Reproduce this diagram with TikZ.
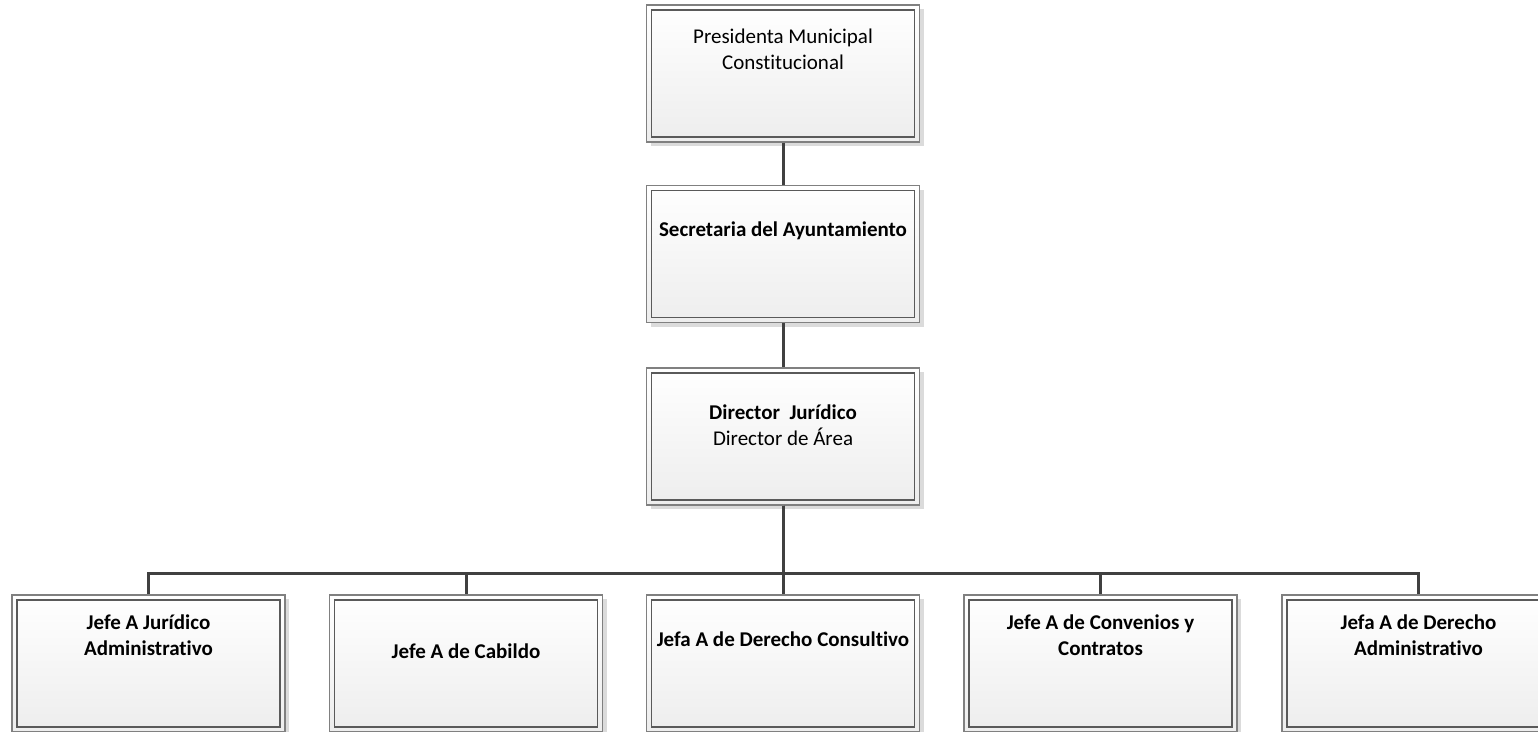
\documentclass[tikz,border=0pt]{standalone}
\usepackage{fontspec}
\setmainfont{Carlito}[Ligatures=NoCommon]
\usetikzlibrary{shadows}
\definecolor{linecol}{HTML}{404040}
\definecolor{outercol}{HTML}{808080}
\definecolor{innercol}{HTML}{5A5A5A}
\tikzset{
  orgbox/.style={rectangle, draw=outercol, line width=1.3pt,
    minimum width=273pt, minimum height=137pt, inner sep=0pt,
    top color=white, bottom color=black!7,
    drop shadow={shadow xshift=4pt, shadow yshift=-4pt, fill=black!14, opacity=1},
    path picture={\draw[innercol, line width=1.3pt]
      ([shift={(5pt,-5pt)}]path picture bounding box.north west) rectangle
      ([shift={(-5pt,5pt)}]path picture bounding box.south east);}},
  orgtext/.style={align=center, inner sep=0pt, font=\fontsize{21}{26}\selectfont},
  conn/.style={draw=linecol, line width=3pt}
}
\begin{document}
\begin{tikzpicture}[x=1pt,y=-1pt]
\clip (0,0) rectangle (1538,731);
\fill[white] (0,0) rectangle (1538,731);
% boxes
\node[orgbox] (pres) at (783,73.5) {};
\node[orgbox] (sec) at (783,254) {};
\node[orgbox] (dir) at (783,436.5) {};
\node[orgbox] (j1) at (148.5,663.5) {};
\node[orgbox] (j2) at (466,663.5) {};
\node[orgbox] (j3) at (783,663.5) {};
\node[orgbox] (j4) at (1100.5,663.5) {};
\node[orgbox] (j5) at (1418.5,663.5) {};
% texts
\node[orgtext] (tpres) at (783,49) {Presidenta Municipal\\Constitucional};
\node[orgtext, font=\fontsize{21}{26}\selectfont\bfseries] (tsec) at (783,231) {Secretaria del Ayuntamiento};
\node[orgtext] (tdir) at (783,425) {\textbf{Director\ \ Jurídico}\\Director de Área};
\node[orgtext, font=\fontsize{21}{26}\selectfont\bfseries] (tj1) at (148.5,635) {Jefe A Jurídico\\Administrativo};
\node[orgtext, font=\fontsize{21}{26}\selectfont\bfseries] (tj2) at (466,651) {Jefe A de Cabildo};
\node[orgtext, font=\fontsize{21}{26}\selectfont\bfseries] (tj3) at (783,639) {Jefa A de Derecho Consultivo};
\node[orgtext, font=\fontsize{21}{26}\selectfont\bfseries] (tj4) at (1100.5,635) {Jefe A de Convenios y\\Contratos};
\node[orgtext, font=\fontsize{21}{26}\selectfont\bfseries] (tj5) at (1418.5,635) {Jefa A de Derecho\\Administrativo};
% connectors
\draw[conn] (pres.south) -- (sec.north);
\draw[conn] (sec.south) -- (dir.north);
\draw[conn] (dir.south) -- (j3.north);
\draw[conn] (dir.south) -- ++(0,68) -| (j1.north);
\draw[conn] (dir.south) -- ++(0,68) -| (j2.north);
\draw[conn] (dir.south) -- ++(0,68) -| (j4.north);
\draw[conn] (dir.south) -- ++(0,68) -| (j5.north);
\end{tikzpicture}
\end{document}
